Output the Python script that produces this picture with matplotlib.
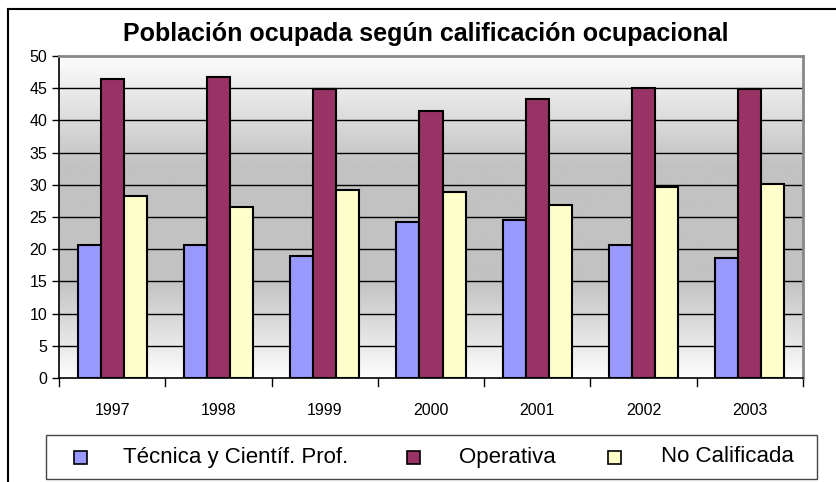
import matplotlib.pyplot as plt
from matplotlib import patches
import numpy as np

plt.rcParams['font.family'] = ['Liberation Sans', 'DejaVu Sans']

years = ['1997', '1998', '1999', '2000', '2001', '2002', '2003']
series = ['Técnica y Científ. Prof.', 'Operativa', 'No Calificada']
tecnica = [20.7, 20.6, 19.0, 24.3, 24.6, 20.7, 18.7]
operativa = [46.4, 46.7, 44.8, 41.5, 43.4, 45.1, 44.8]
no_calif = [28.3, 26.6, 29.2, 28.9, 26.9, 29.6, 30.2]
colors = ['#9999ff', '#993366', '#ffffcc']

fig = plt.figure(figsize=(8.37, 4.82), dpi=100)
ax = fig.add_axes([59/837, 1-378/482, 744/837, 322/482])

# background gradient: white top, grey middle, white bottom
yy = np.linspace(0, 50, 200)
shade = np.interp(yy, [0, 15, 33, 50], [0.99, 0.76, 0.76, 0.99])
ax.imshow(shade[:, None], extent=[-0.5, 6.5, 0, 50], origin='lower', aspect='auto',
          cmap='gray', vmin=0, vmax=1, zorder=0)

x = np.arange(len(years))
w = 0.217
for i, (vals, c) in enumerate(zip([tecnica, operativa, no_calif], colors)):
    ax.bar(x + (i - 1) * w, vals, w, color=c, edgecolor='black', linewidth=1.5, zorder=3)

ax.set_xlim(-0.5, 6.5)
ax.set_ylim(0, 50)
ax.set_yticks(range(0, 51, 5))
for v in range(5, 50, 5):
    ax.axhline(v, color='black', linewidth=1, zorder=1)

ax.set_xticks(x)
ax.set_xticklabels(years, fontsize=11.5)
ax.tick_params(axis='x', length=0, pad=18)
ax.tick_params(axis='y', labelsize=11.5, length=5, width=1)
for b in np.arange(-0.5, 7, 1):
    ax.plot([b, b], [0, -1.2], color='black', linewidth=1, clip_on=False)

ax.spines['top'].set_color('#888888')
ax.spines['right'].set_color('#888888')
ax.spines['top'].set_linewidth(2)
ax.spines['right'].set_linewidth(2)
ax.spines['left'].set_linewidth(1.2)
ax.spines['bottom'].set_linewidth(1.2)

fig.text(0.509, 1-34/482, 'Población ocupada según calificación ocupacional',
         ha='center', va='center', fontsize=18, fontweight='bold')

# legend box
fig.patches.append(patches.Rectangle((46/837, 1-479/482), 771/837, 44/482,
                   transform=fig.transFigure, fill=False, edgecolor='#444444', linewidth=1))
mk = [80, 413, 614]
tx = [123, 459, 661]
for name, c, m, t in zip(series, colors, mk, tx):
    fig.patches.append(patches.Rectangle(((m-6)/837, 1-464/482), 13/837, 13/482,
                       transform=fig.transFigure, facecolor=c, edgecolor='black', linewidth=1.2))
    fig.text(t/837, 1-457/482, name, ha='left', va='center', fontsize=16)

# outer chart border (partly cropped)
fig.add_artist(plt.Line2D([8/837, 1], [1-9/482, 1-9/482], transform=fig.transFigure,
                          color='black', linewidth=1.5))
fig.add_artist(plt.Line2D([8/837, 8/837], [0, 1-9/482], transform=fig.transFigure,
                          color='black', linewidth=1.5))

fig.savefig('out.png', dpi=100)
